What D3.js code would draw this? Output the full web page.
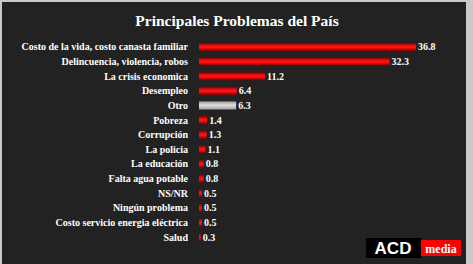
<!DOCTYPE html>
<html>
<head>
<meta charset="utf-8">
<script src="https://d3js.org/d3.v7.min.js"></script>
<style>
body { margin: 0; background: #c8c8c8; }
svg { display: block; }
</style>
</head>
<body>
<svg width="473" height="264"></svg>
<script>
var categories = ["Costo de la vida, costo canasta familiar", "Delincuencia, violencia, robos",
  "La crisis economica", "Desempleo", "Otro", "Pobreza", "Corrupción", "La policia",
  "La educación", "Falta agua potable", "NS/NR", "Ningún problema",
  "Costo servicio energia eléctrica", "Salud"];
var values = [36.8, 32.3, 11.2, 6.4, 6.3, 1.4, 1.3, 1.1, 0.8, 0.8, 0.5, 0.5, 0.5, 0.3];
var labels = ["36.8", "32.3", "11.2", "6.4", "6.3", "1.4", "1.3", "1.1", "0.8", "0.8", "0.5", "0.5", "0.5", "0.3"];
var highlight = "Otro";

var svg = d3.select("svg");

// panel background, light frame on left/top/right
svg.append("rect").attr("x", 0).attr("y", 0).attr("width", 473).attr("height", 264).attr("fill", "#c9c9c9");
svg.append("rect").attr("x", 2).attr("y", 2).attr("width", 464).attr("height", 262).attr("fill", "#222222");

var defs = svg.append("defs");
var red = defs.append("linearGradient").attr("id", "red").attr("x1", 0).attr("y1", 0).attr("x2", 0).attr("y2", 1);
red.append("stop").attr("offset", "0%").attr("stop-color", "#7a0000");
red.append("stop").attr("offset", "40%").attr("stop-color", "#ff1010");
red.append("stop").attr("offset", "60%").attr("stop-color", "#ff1010");
red.append("stop").attr("offset", "100%").attr("stop-color", "#7a0000");
var grey = defs.append("linearGradient").attr("id", "grey").attr("x1", 0).attr("y1", 0).attr("x2", 0).attr("y2", 1);
grey.append("stop").attr("offset", "0%").attr("stop-color", "#9a9a9a");
grey.append("stop").attr("offset", "45%").attr("stop-color", "#e0e0e0");
grey.append("stop").attr("offset", "100%").attr("stop-color", "#a0a0a0");

svg.append("text")
  .attr("x", 237).attr("y", 26)
  .attr("text-anchor", "middle")
  .attr("fill", "#ffffff")
  .style("font-family", "'Liberation Serif', 'Times New Roman', serif")
  .style("font-weight", "bold")
  .style("font-size", "15.5px")
  .text("Principales Problemas del País");

var x = d3.scaleLinear().domain([0, 36.8]).range([199, 416]);
var y = d3.scaleBand().domain(categories).range([40, 244]).paddingInner(0.45).paddingOuter(0.2);

var rows = svg.selectAll("g.row").data(categories).enter().append("g").attr("class", "row");

rows.append("text")
  .attr("x", 188)
  .attr("y", function (d) { return y(d) + y.bandwidth() / 2; })
  .attr("dy", "0.35em")
  .attr("text-anchor", "end")
  .attr("fill", "#ffffff")
  .style("font-family", "'Liberation Serif', 'Times New Roman', serif")
  .style("font-weight", "bold")
  .style("font-size", "10px")
  .text(function (d) { return d; });

rows.append("rect")
  .attr("x", x(0))
  .attr("y", function (d) { return y(d); })
  .attr("width", function (d, i) { return x(values[i]) - x(0); })
  .attr("height", y.bandwidth())
  .attr("fill", function (d) { return d === highlight ? "url(#grey)" : "url(#red)"; });

rows.append("text")
  .attr("x", function (d, i) { return x(values[i]) + 2; })
  .attr("y", function (d) { return y(d) + y.bandwidth() / 2; })
  .attr("dy", "0.35em")
  .attr("fill", "#ffffff")
  .style("font-family", "'Liberation Serif', 'Times New Roman', serif")
  .style("font-weight", "bold")
  .style("font-size", "10px")
  .text(function (d, i) { return labels[i]; });

// logo
var logo = svg.append("g");
logo.append("rect").attr("x", 366).attr("y", 238).attr("width", 55).attr("height", 20).attr("fill", "#000000");
logo.append("text").attr("x", 393).attr("y", 254).attr("text-anchor", "middle").attr("fill", "#ffffff")
  .style("font-family", "'Liberation Sans', Arial, sans-serif").style("font-weight", "bold").style("font-size", "17px")
  .text("ACD");
logo.append("rect").attr("x", 421).attr("y", 240).attr("width", 40).attr("height", 16).attr("fill", "#ff0000");
logo.append("text").attr("x", 441).attr("y", 253).attr("text-anchor", "middle").attr("fill", "#ffffff")
  .style("font-family", "'Liberation Serif', 'Times New Roman', serif").style("font-weight", "bold").style("font-size", "12px")
  .text("media");
</script>
</body>
</html>
